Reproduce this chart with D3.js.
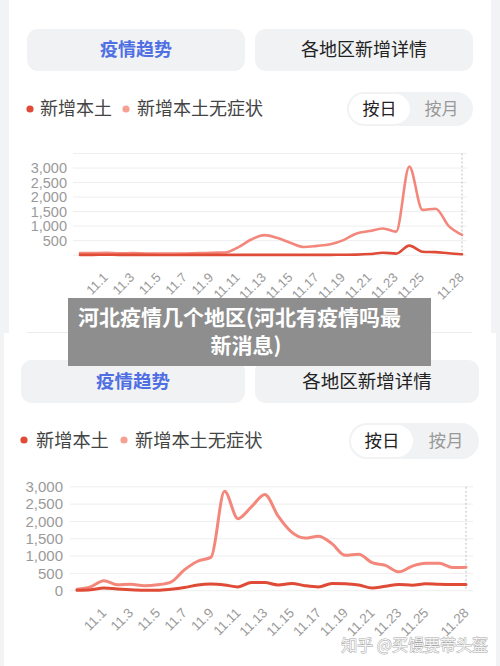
<!DOCTYPE html>
<html><head><meta charset="utf-8">
<script src="https://cdn.jsdelivr.net/npm/d3@7/dist/d3.min.js"></script>
<style>
html,body{margin:0;padding:0;background:#f2f3f5;}
svg{display:block;}
</style></head>
<body>
<svg id="c" width="500" height="666"></svg>
<script>
// ---------- data ----------
const dates = ["10.30","10.31","11.1","11.2","11.3","11.4","11.5","11.6","11.7","11.8","11.9","11.10",
  "11.11","11.12","11.13","11.14","11.15","11.16","11.17","11.18","11.19","11.20","11.21","11.22",
  "11.23","11.24","11.25","11.26","11.27","11.28"];
const tickLabels = ["11.1","11.3","11.5","11.7","11.9","11.11","11.13","11.15","11.17","11.19","11.21","11.23","11.25","11.28"];
const seriesNames = ["新增本土","新增本土无症状"];

// upper screenshot
const topLocal = [10,12,15,12,10,10,8,8,10,10,12,12,12,12,12,12,10,10,10,12,15,20,40,85,55,330,120,105,65,35];
const topAsym  = [70,75,80,65,70,60,55,55,60,70,85,95,270,540,690,590,420,280,320,375,520,750,830,920,810,3050,1560,1600,1000,700];
const topYTicks = [500,1000,1500,2000,2500,3000];
const topGrid = [0,500,1000,1500,2000,2500,3000,3500];

// lower screenshot
const botLocal = [10,25,75,50,30,15,10,40,90,165,190,165,110,240,235,165,210,145,110,205,200,165,80,130,180,160,200,185,180,180];
const botAsym  = [40,110,290,170,185,145,170,250,600,850,970,2870,2080,2420,2780,2150,1690,1520,1570,1360,1020,1050,810,730,545,710,790,790,670,680];
const botYTicks = [0,500,1000,1500,2000,2500,3000];

const overlayLines = ["河北疫情几个地区(河北有疫情吗最","新消息)"];
const watermark = "知乎 @买馒要带头盔";

// ---------- drawing ----------
const svg = d3.select("#c");
const CJK = "'Noto Sans CJK SC','Noto Sans',sans-serif";
const NUM = "'Liberation Sans',Arial,sans-serif";
const C_LOCAL = "#df4b36", C_ASYM = "#f3877b";
const BTN = "#f1f2f4";

svg.append("rect").attr("width",500).attr("height",666).attr("fill","#f2f3f5");

function panel(p){
  const g = svg.append("g");
  g.append("rect").attr("x",p.card[0]).attr("y",p.card[1]).attr("width",p.card[2]).attr("height",p.card[3]).attr("fill","#fff");
  p.buttons.forEach((b,i)=>{
    g.append("rect").attr("x",b[0]).attr("y",b[1]).attr("width",b[2]).attr("height",b[3]).attr("rx",11).attr("fill",BTN);
    g.append("text").attr("x",b[0]+b[2]/2).attr("y",b[1]+b[3]/2).attr("dy","0.36em")
      .attr("text-anchor","middle").attr("font-family",CJK).attr("font-size",p.btnFont)
      .attr("font-weight",i===0?600:400).attr("fill",i===0?"#4f6fe3":"#222")
      .text(i===0?"疫情趋势":"各地区新增详情");
  });
  const lc=[C_LOCAL,"#f5a093"];
  p.legend.forEach((l,i)=>{
    g.append("circle").attr("cx",l[0]).attr("cy",p.legendY).attr("r",3.6).attr("fill",lc[i]);
    g.append("text").attr("x",l[1]).attr("y",p.legendY).attr("dy","0.36em").attr("font-family",CJK)
      .attr("font-size",p.legFont).attr("fill","#444").text(seriesNames[i]);
  });
  const t=p.toggle;
  g.append("rect").attr("x",t[0]).attr("y",t[1]).attr("width",t[2]).attr("height",t[3]).attr("rx",t[3]/2).attr("fill",BTN);
  g.append("rect").attr("x",t[0]+2).attr("y",t[1]+2).attr("width",t[4]).attr("height",t[3]-4).attr("rx",(t[3]-4)/2).attr("fill","#fff");
  g.append("text").attr("x",t[0]+2+t[4]/2).attr("y",t[1]+t[3]/2).attr("dy","0.36em").attr("text-anchor","middle")
    .attr("font-family",CJK).attr("font-size",p.togFont).attr("fill","#222").text("按日");
  g.append("text").attr("x",(t[0]+2+t[4]+t[0]+t[2])/2).attr("y",t[1]+t[3]/2).attr("dy","0.36em").attr("text-anchor","middle")
    .attr("font-family",CJK).attr("font-size",p.togFont).attr("fill","#999").text("按月");

  const x = d3.scalePoint().domain(dates).range(p.xr);
  const y = d3.scaleLinear().domain(p.yd).range(p.yr);
  g.selectAll(".grid").data(p.grid).enter().append("line")
    .attr("x1",p.gx[0]).attr("x2",p.gx[1]).attr("y1",d=>y(d)).attr("y2",d=>y(d))
    .attr("stroke","#eeeeee").attr("stroke-width",1);
  const yAxis = d3.axisLeft(y).tickValues(p.yTicks).tickSize(0).tickPadding(0).tickFormat(d3.format(","));
  const ya = g.append("g").attr("transform",`translate(${p.yLabelX},0)`).call(yAxis);
  ya.select(".domain").remove();
  ya.selectAll("text").attr("font-family",NUM).attr("font-size",p.yFont).attr("fill","#9a9a9a");

  const xAxis = d3.axisBottom(x).tickValues(tickLabels).tickSize(0).tickPadding(0);
  const xa = g.append("g").attr("transform",`translate(0,${y(0)})`).call(xAxis);
  xa.select(".domain").remove();
  xa.selectAll("text").attr("font-family",NUM).attr("font-size",p.xFont).attr("fill","#9a9a9a")
    .attr("text-anchor","end").attr("dy",0)
    .attr("transform",`translate(${p.xOff[0]},${p.xOff[1]}) rotate(-45)`).attr("y",0).attr("x",0);

  g.append("line").attr("x1",x(dates[dates.length-1])).attr("x2",x(dates[dates.length-1]))
    .attr("y1",y(p.yd[1])).attr("y2",y(0)).attr("stroke","#bdbdbd").attr("stroke-dasharray","2,2");

  const line = d3.line().x((d,i)=>x(dates[i])).y(d=>y(d)).curve(d3.curveMonotoneX);
  g.append("path").datum(p.asym).attr("d",line).attr("fill","none").attr("stroke",C_ASYM)
    .attr("stroke-width",p.lw).attr("stroke-linejoin","round").attr("stroke-linecap","round");
  g.append("path").datum(p.local).attr("d",line).attr("fill","none").attr("stroke",C_LOCAL)
    .attr("stroke-width",p.lw).attr("stroke-linejoin","round").attr("stroke-linecap","round");
}

svg.append("rect").attr("x",9).attr("y",0).attr("width",482).attr("height",333).attr("fill","#fff");
svg.append("rect").attr("x",27).attr("y",-30).attr("width",445).attr("height",34).attr("rx",10).attr("fill",BTN);

panel({
  card:[9,0,482,333],
  buttons:[[27,29,218,42],[255,29,218,42]], btnFont:18,
  legendY:109, legend:[[30,40],[126,137]], legFont:18, togFont:17,
  toggle:[347,92,126,34,61],
  xr:[80,462], yd:[0,3500], yr:[255.2,153.5], grid:topGrid, gx:[73,467],
  yTicks:topYTicks, yLabelX:67, yFont:14.5, xFont:13, xOff:[2,23],
  local:topLocal, asym:topAsym, lw:2.6
});
svg.append("line").attr("x1",27).attr("x2",472).attr("y1",332.5).attr("y2",332.5).attr("stroke","#ececec");

panel({
  card:[4,333,492,333],
  buttons:[[21,360,224,43],[255,360,224,43]], btnFont:18.5,
  legendY:440, legend:[[24,36],[124,135]], legFont:18.2, togFont:17.5,
  toggle:[349,423,130,36,62],
  xr:[77,466], yd:[0,3000], yr:[590.7,486.8], grid:botYTicks, gx:[70,473],
  yTicks:botYTicks, yLabelX:63, yFont:15, xFont:13.5, xOff:[3,23],
  local:botLocal, asym:botAsym, lw:3
});

// overlay title
svg.append("rect").attr("x",68).attr("y",298).attr("width",363).attr("height",68).attr("fill","#8a8a8a").attr("opacity",0.97);
svg.append("text").attr("x",78).attr("y",325).attr("font-family",CJK).attr("font-size",21).attr("font-weight",700)
  .attr("fill","#fff").text(overlayLines[0]);
svg.append("text").attr("x",246).attr("y",353).attr("text-anchor","middle").attr("font-family",CJK).attr("font-size",21)
  .attr("font-weight",700).attr("fill","#fff").text(overlayLines[1]);

// watermark
svg.append("text").attr("x",488).attr("y",651).attr("text-anchor","end").attr("font-family",CJK).attr("font-size",16)
  .attr("fill","#f4f4f4").attr("stroke","#a8a8a8").attr("stroke-width",0.9).attr("paint-order","stroke").text(watermark);
</script>
</body></html>
